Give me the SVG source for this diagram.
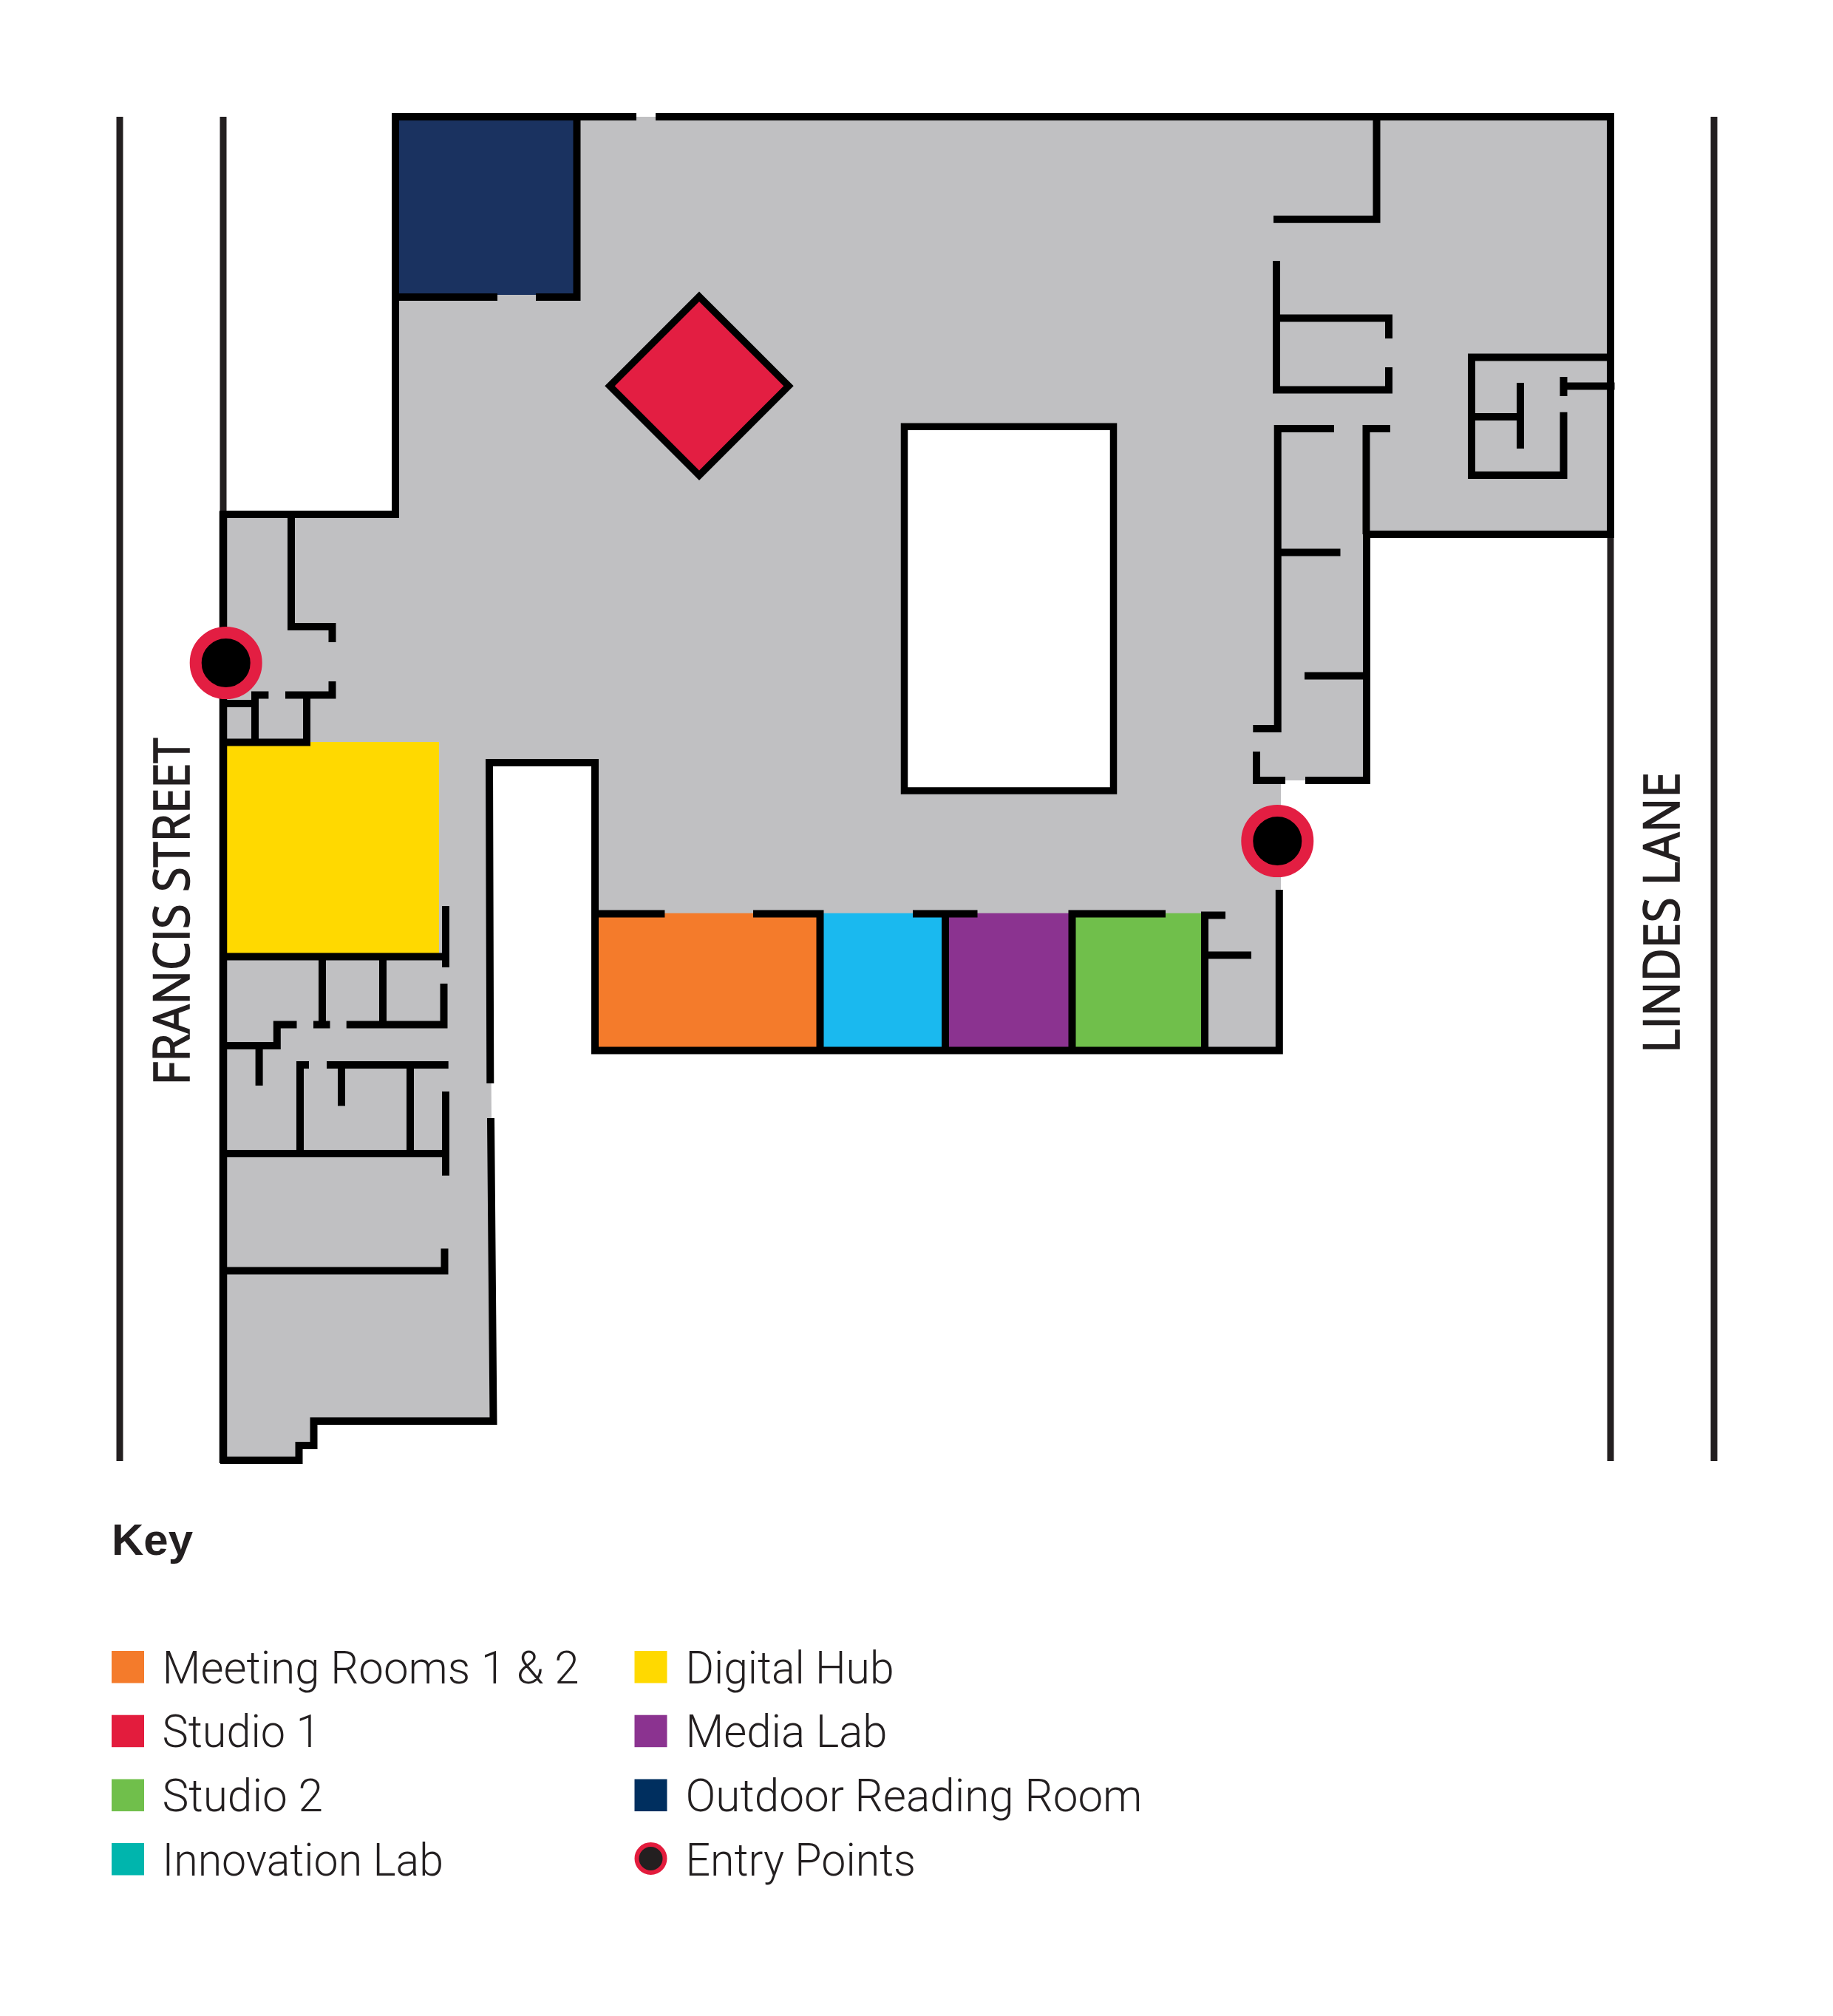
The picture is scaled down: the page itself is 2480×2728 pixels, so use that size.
<svg xmlns="http://www.w3.org/2000/svg" width="2480" height="2728" viewBox="0 0 2480 2728">
<style>
.w{fill:none;stroke:#000;stroke-width:10;stroke-linejoin:miter;stroke-linecap:butt}
.s{fill:none;stroke:#231f20;stroke-width:9}
.t{font-family:"Roboto","Liberation Sans",sans-serif;font-weight:300;font-size:61px;fill:#231f20}
.l{font-family:"Open Sans","Liberation Sans",sans-serif;font-size:67px;fill:#231f20;stroke:#231f20;stroke-width:1.6}
.k{font-family:"Liberation Sans",Arial,sans-serif;font-weight:700;font-size:60px;fill:#231f20}
</style>
<rect width="2480" height="2728" fill="#fff"/>
<g id="streets">
<path class="s" d="M162 158V1977M302 158V692M2179 727V1977M2319 158V1977"/>
</g>
<path id="floor" fill="#c0c0c2" d="M535 158H2179V723H1849V1056H1733V1421.5H805V1032H662L667.5 1923H424.5V1956H404.5V1976H302V696H535Z"/>
<g id="courtyard"><rect x="1223.5" y="577.3" width="283" height="492.7" fill="#fff" stroke="#000" stroke-width="9.5"/></g>
<g id="outdoor-reading-room"><rect x="535" y="158" width="245" height="241" fill="#1a3260"/></g>
<g id="studio-1"><path d="M946 401.3L1067 522.3L946 643.3L825 522.3Z" fill="#e31e42" stroke="#000" stroke-width="9.5"/></g>
<g id="digital-hub"><rect x="303" y="1004" width="291" height="286" fill="#ffd900"/></g>
<g id="meeting-rooms"><rect x="805" y="1235.7" width="305" height="186" fill="#f47b2b"/></g>
<g id="innovation-lab"><rect x="1110" y="1235.7" width="169" height="186" fill="#1ab9ef"/></g>
<g id="media-lab"><rect x="1279" y="1235.7" width="171.5" height="186" fill="#8b3390"/></g>
<g id="studio-2"><rect x="1450.5" y="1235.7" width="179.5" height="186" fill="#70bf4b"/></g>
<g id="walls">
<path class="w" d="M297 696H535V158H861M887 158H2179V723H1849V1056H1766M1739 1056H1700V1017"/>
<path class="w" style="stroke-width:10.5" d="M302 692V1980"/>
<path class="w" d="M298 1976H404.5V1956H424.5V1923H667.5L664 1513M663.3 1466L662 1032H805V1421.5H1730.8V1204"/>
<path class="w" d="M531 402H673M725 402H780.5V158"/>
<path class="w" d="M394 696V848H449.5V869M449.5 922V940.5H386M345 1004.5V940.5H363.4M415 940.5V1004.5H303M303 952H345"/>
<path class="w" d="M303 1294.5H603M603 1226V1309M436 1294.5V1391M424 1386.5H446.5M518 1294.5V1386.5M468.7 1386.5H600.5V1331M303 1415H374.8V1386.5H401.5M350.6 1415V1469"/>
<path class="w" d="M418 1441H406V1561M442 1441H606.7M462 1441V1496.5M555 1441V1561M303 1561H603M603 1477V1590.7M303 1719.5H601.5V1689.5"/>
<path class="w" d="M800 1236.5H899.4M1019 1236.5H1109.5V1421.5M1235 1236.5H1322.5M1279 1236.5V1421.5M1577 1236.5H1450.5V1421.5M1658 1238.5H1630V1421.5M1630 1292.5H1693"/>
<path class="w" d="M1723 296.7H1862.5V158M1727 353V527.5H1879V497M1879 458V430.4H1727"/>
<path class="w" d="M1805 580H1728.7V986H1695.3M1881 580H1848.5V723M1729 747.5H1813.5M1765 914.5H1849"/>
<path class="w" d="M2179 483.5H1991V643H2115.5V557.7M1991 564H2057M2057 518V607M2115.5 510V536M2115.5 522.5H2184.5"/>
</g>
<g id="entry-west"><circle cx="305.7" cy="897" r="41" fill="#000" stroke="#e31e42" stroke-width="16"/></g>
<g id="entry-east"><circle cx="1728.3" cy="1138" r="41" fill="#000" stroke="#e31e42" stroke-width="16"/></g>
<text class="l" transform="translate(256 1468.5) rotate(-90)" textLength="470" lengthAdjust="spacingAndGlyphs">FRANCIS STREET</text>
<text class="l" transform="translate(2271.5 1425) rotate(-90)" textLength="380" lengthAdjust="spacingAndGlyphs">LINDES LANE</text>
<text class="k" x="151" y="2104">Key</text>
<g id="legend">
<rect x="151" y="2234" width="44" height="43.5" fill="#f47b2b"/><text class="t" x="219.5" y="2277.5" textLength="564" lengthAdjust="spacingAndGlyphs">Meeting Rooms 1 &amp; 2</text>
<rect x="151" y="2320.7" width="44" height="43.5" fill="#e31c3d"/><text class="t" x="219.5" y="2364" textLength="214" lengthAdjust="spacingAndGlyphs">Studio 1</text>
<rect x="151" y="2407.5" width="44" height="43.5" fill="#70bf4b"/><text class="t" x="219.5" y="2451" textLength="217.5" lengthAdjust="spacingAndGlyphs">Studio 2</text>
<rect x="151" y="2494" width="44" height="43.5" fill="#00b5ad"/><text class="t" x="219.5" y="2537.5" textLength="380.5" lengthAdjust="spacingAndGlyphs">Innovation Lab</text>
<rect x="858.5" y="2234" width="44" height="43.5" fill="#ffd900"/><text class="t" x="927.5" y="2277.5" textLength="282" lengthAdjust="spacingAndGlyphs">Digital Hub</text>
<rect x="858.5" y="2320.7" width="44" height="43.5" fill="#8b3390"/><text class="t" x="927.5" y="2364" textLength="273" lengthAdjust="spacingAndGlyphs">Media Lab</text>
<rect x="858.5" y="2407.5" width="44" height="43.5" fill="#002f5f"/><text class="t" x="927.5" y="2451" textLength="618" lengthAdjust="spacingAndGlyphs">Outdoor Reading Room</text>
<circle cx="880.5" cy="2515" r="19" fill="#231f20" stroke="#e31c3d" stroke-width="6"/><text class="t" x="927.5" y="2537.5" textLength="311.5" lengthAdjust="spacingAndGlyphs">Entry Points</text>
</g>
</svg>
